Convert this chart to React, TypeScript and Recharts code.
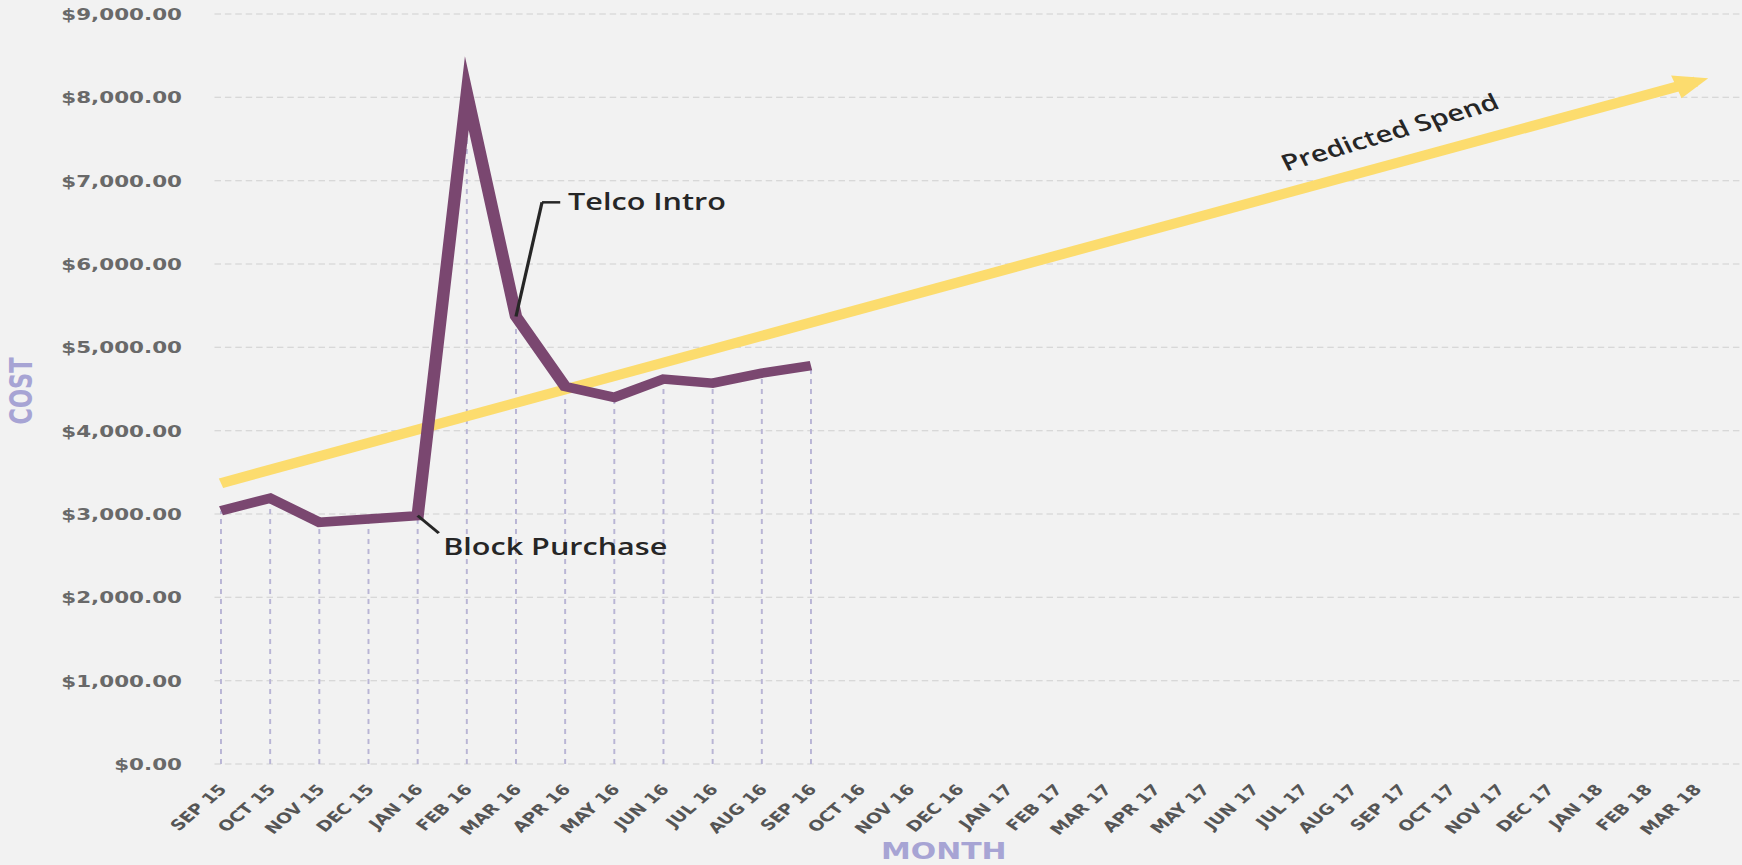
import React from 'react'
import { LineChart, Line, XAxis, YAxis, CartesianGrid, ReferenceLine, ReferenceDot, Label } from 'recharts'

// the source picture is stretched sideways, so the chart is drawn narrow and widened by STRETCH
const STRETCH = 1.3
const W = 1340
const H = 865

const MONTHS = [
  'SEP 15', 'OCT 15', 'NOV 15', 'DEC 15', 'JAN 16', 'FEB 16', 'MAR 16', 'APR 16', 'MAY 16', 'JUN 16',
  'JUL 16', 'AUG 16', 'SEP 16', 'OCT 16', 'NOV 16', 'DEC 16', 'JAN 17', 'FEB 17', 'MAR 17', 'APR 17',
  'MAY 17', 'JUN 17', 'JUL 17', 'AUG 17', 'SEP 17', 'OCT 17', 'NOV 17', 'DEC 17', 'JAN 18', 'FEB 18', 'MAR 18',
]
const COST = [3040, 3190, 2900, 2940, 2980, 8050, 5370, 4530, 4400, 4620, 4570, 4690, 4780]
const PREDICTED = [
  { month: 'SEP 15', value: 3370 },
  { month: 'MAR 18', value: 8190 },
]
const Y_TICKS = [0, 1000, 2000, 3000, 4000, 5000, 6000, 7000, 8000, 9000]

const PURPLE = '#7a4770'
const YELLOW = '#fcdc6e'
const LAVENDER = '#a7a4d4'
const INK = '#262626'

const data = MONTHS.map((m, i) => {
  const p = PREDICTED.find((d) => d.month === m)
  return { i, month: m, cost: i < COST.length ? COST[i] : null, predicted: p ? p.value : null }
})

const fmtCost = (v: number) => '$' + v.toLocaleString('en-US', { minimumFractionDigits: 2, maximumFractionDigits: 2 })

function MonthTick({ x, y, payload }: any) {
  const ax = x + 5
  const ay = y + 24
  return (
    <text x={ax} y={ay} transform={`rotate(-48 ${ax} ${ay})`} textAnchor="end" fill="#555"
      fontSize={14.5} fontWeight={700} fontFamily="DejaVu Sans">
      {MONTHS[payload.value]}
    </text>
  )
}

// arrow head on the last point of the predicted line, pointing along the line
let firstPred: { x: number; y: number } | null = null
function ArrowDot(props: any) {
  const { cx, cy, index } = props
  if (cx == null || cy == null || Number.isNaN(cx) || Number.isNaN(cy)) return <g key={`pd-${index}`} />
  if (index === 0) {
    firstPred = { x: cx, y: cy }
    return <g key={`pd-${index}`} />
  }
  if (!firstPred) return <g key={`pd-${index}`} />
  const a = Math.atan2(cy - firstPred.y, cx - firstPred.x)
  const c = Math.cos(a), s = Math.sin(a)
  const tip = [cx + 10 * c, cy + 10 * s]
  const bx = cx - 16 * c, by = cy - 16 * s
  const p1 = [bx - 12 * s, by + 12 * c]
  const p2 = [bx + 12 * s, by - 12 * c]
  return <polygon key={`pd-${index}`} points={`${tip[0]},${tip[1]} ${p1[0]},${p1[1]} ${p2[0]},${p2[1]}`} fill={YELLOW} />
}

const noteText = (text: string, size: number, rotate = 0, anchor: 'start' | 'middle' = 'start') => (p: any) => {
  const x = p.viewBox.x
  const y = p.viewBox.y
  return (
    <text x={x} y={y} textAnchor={anchor} fill={INK} fontSize={size} fontWeight={600} fontFamily="Open Sans"
      transform={rotate ? `rotate(${rotate} ${x} ${y})` : undefined}>
      {text}
    </text>
  )
}

export default function App() {
  return (
    <div style={{ position: 'absolute', left: 0, top: 0, width: 1742, height: H, background: '#f2f2f2', overflow: 'hidden' }}>
      <style>{'body{margin:0;background:#f2f2f2}'}</style>
      <div style={{ width: W, height: H, transform: `scaleX(${STRETCH})`, transformOrigin: '0 0' }}>
        <LineChart width={W} height={H} data={data} margin={{ top: 14, right: 1, left: 0, bottom: 0 }}>
          <CartesianGrid vertical={false} stroke="#cfcfcf" strokeDasharray="5 3" />
          <XAxis dataKey="i" type="number" domain={[-0.132, 30.91]} allowDataOverflow
            ticks={MONTHS.map((_, i) => i)} interval={0} tick={<MonthTick />}
            axisLine={false} tickLine={false} tickSize={0} height={101}>
            <Label content={() => (
              <text x={726} y={859} textAnchor="middle" fill={LAVENDER} fontSize={23} fontWeight={700} fontFamily="DejaVu Sans">MONTH</text>
            )} />
          </XAxis>
          <YAxis domain={[0, 9000]} ticks={Y_TICKS} tickFormatter={fmtCost} width={165}
            axisLine={false} tickLine={false} tickSize={0} tickMargin={25}
            tick={{ fill: '#696969', fontSize: 16.5, fontWeight: 700, fontFamily: 'DejaVu Sans' }}>
            <Label content={() => (
              <text x={16} y={391} transform="rotate(-90 16 391)" textAnchor="middle" dominantBaseline="central"
                fill={LAVENDER} fontSize={25} fontWeight={700} fontFamily="DejaVu Sans Condensed">COST</text>
            )} />
          </YAxis>

          {COST.map((v, i) => (
            <ReferenceLine key={`drop-${i}`} segment={[{ x: i, y: 0 }, { x: i, y: v }]}
              stroke="#b9b5d5" strokeWidth={1.5} strokeDasharray="5 5" />
          ))}

          <Line dataKey="predicted" stroke={YELLOW} strokeWidth={10} connectNulls dot={ArrowDot}
            activeDot={false} isAnimationActive={false} />
          <Line dataKey="cost" stroke={PURPLE} strokeWidth={9.5} strokeLinejoin="miter" strokeMiterlimit={10}
            dot={false} activeDot={false} isAnimationActive={false} />

          {/* annotation leaders */}
          <ReferenceLine segment={[{ x: 6, y: 5370 }, { x: 6.53, y: 6740 }]} stroke={INK} strokeWidth={2.5} />
          <ReferenceLine segment={[{ x: 6.53, y: 6740 }, { x: 6.9, y: 6740 }]} stroke={INK} strokeWidth={2.5} />
          <ReferenceLine segment={[{ x: 4, y: 2980 }, { x: 4.43, y: 2770 }]} stroke={INK} strokeWidth={2.5} />

          <ReferenceDot x={7.06} y={6650} r={0} fill="none" stroke="none" label={noteText('Telco Intro', 23.5)} />
          <ReferenceDot x={4.52} y={2510} r={0} fill="none" stroke="none" label={noteText('Block Purchase', 23.5)} />
          <ReferenceDot x={23.85} y={7490} r={0} fill="none" stroke="none" label={noteText('Predicted Spend', 22.5, -21, 'middle')} />
        </LineChart>
      </div>
    </div>
  )
}
